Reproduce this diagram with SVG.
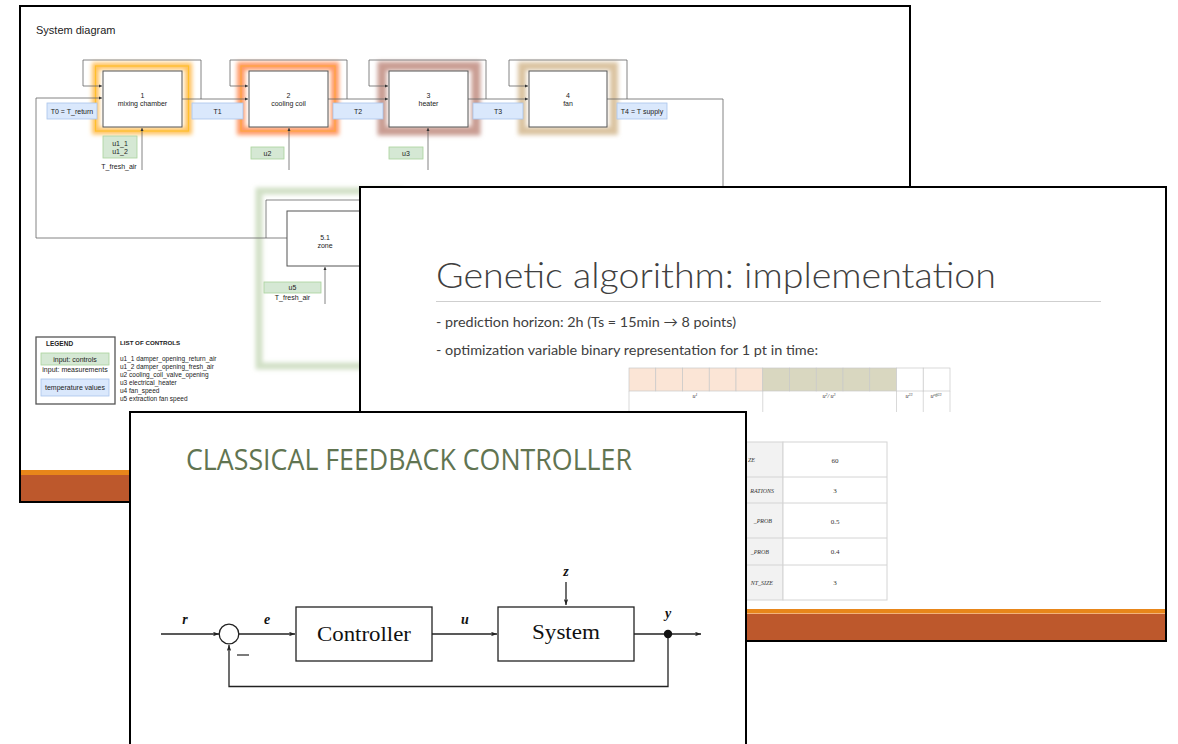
<svg xmlns="http://www.w3.org/2000/svg" width="1178" height="744" viewBox="0 0 1178 744">
  <defs>
    <style>
      .frame{fill:#fff;stroke:#000;stroke-width:2}
      .blk{fill:#fff;stroke:#555;stroke-width:1}
      .wire{fill:none;stroke:#666;stroke-width:0.8}
      .lbl{font-family:"Liberation Sans",Arial,sans-serif;font-size:7px;fill:#222;text-anchor:middle}
      .sm{font-family:"Liberation Sans",Arial,sans-serif;font-size:6.5px;fill:#222}
      .tmp{fill:#dae8fc;stroke:#a9c4eb;stroke-width:0.8}
      .ctl{fill:#d5e8d4;stroke:#a9d39b;stroke-width:0.8}
      .glow{fill:none;filter:url(#soft)}
      .orange{fill:#e8861a}
      .rust{fill:#bd582c}
      .gcell{stroke:#c8c8c8;stroke-width:0.7}
      .tser{font-family:"Liberation Serif","Times New Roman",serif;font-style:italic;font-size:6px;fill:#333;text-anchor:middle}
      .pcell{stroke:#d4d4d4;stroke-width:1}
      .pval{font-family:"Liberation Serif","Times New Roman",serif;font-size:7px;fill:#333;text-anchor:middle}
      .body{font-family:Lato,"Open Sans",sans-serif;font-size:14px;fill:#404040}
      .math{font-family:"Liberation Serif","Times New Roman",serif;font-style:italic;font-weight:bold;font-size:14px;fill:#111;text-anchor:middle}
      .cm{font-family:"Liberation Serif","Times New Roman",serif;font-size:20px;fill:#111;text-anchor:middle}
      .bd{fill:none;stroke:#222;stroke-width:1.3}
    </style>
    <filter id="soft" x="-20%" y="-20%" width="140%" height="140%">
      <feGaussianBlur stdDeviation="2"/>
    </filter>
    <marker id="ah" viewBox="0 0 6 6" refX="6" refY="3" markerWidth="4" markerHeight="4" orient="auto">
      <path d="M0,0 L6,3 L0,6 z" fill="#333"/>
    </marker>
    <marker id="ab" viewBox="0 0 8 6" refX="8" refY="3" markerWidth="6" markerHeight="4.5" orient="auto" markerUnits="userSpaceOnUse">
      <path d="M0,0 L8,3 L0,6 L2,3 z" fill="#222"/>
    </marker>
  </defs>

  <!-- ===== Slide 1: system diagram ===== -->
  <g id="slide-system">
    <rect class="frame" x="20" y="6" width="890" height="496"/>
    <rect class="orange" x="21" y="470" width="888" height="5"/>
    <rect class="rust" x="21" y="475" width="888" height="26"/>
    <text x="36" y="34" font-family="Liberation Sans,Arial,sans-serif" font-size="11" fill="#222">System diagram</text>

    <!-- halos -->
    <rect class="glow" x="95.5" y="66" width="93" height="65" stroke="#ffc261" stroke-width="7"/>
    <rect x="95.5" y="66" width="93" height="65" fill="none" stroke="#ffbf2a" stroke-width="1.2"/>
    <rect class="glow" x="241" y="66" width="94" height="65" stroke="#ff9a66" stroke-width="8"/>
    <rect x="241" y="66" width="94" height="65" fill="none" stroke="#ffa640" stroke-width="1.2"/>
    <rect class="glow" x="382" y="66" width="94" height="65" stroke="#c99d93" stroke-width="9"/>
    <rect class="glow" x="522" y="66" width="92" height="65" stroke="#dac3a0" stroke-width="8"/>
    <rect class="glow" x="259" y="191" width="140" height="175" stroke="#d1e0c6" stroke-width="7"/>

    <g id="connectors-system">
      <path class="wire" d="M36,238 V98 H102" marker-end="url(#ah)"/>
      <path class="wire" d="M182,99 H248" marker-end="url(#ah)"/>
      <path class="wire" d="M328,99 H388" marker-end="url(#ah)"/>
      <path class="wire" d="M468,99 H528" marker-end="url(#ah)"/>
      <path class="wire" d="M607,99 H723 V190"/>
      <path class="wire" d="M201,99 V60 H83 V86 H102" marker-end="url(#ah)"/>
      <path class="wire" d="M347,99 V60 H230 V86 H248" marker-end="url(#ah)"/>
      <path class="wire" d="M486,99 V60 H369 V86 H388" marker-end="url(#ah)"/>
      <path class="wire" d="M627,99 V60 H509 V86 H528" marker-end="url(#ah)"/>
      <path class="wire" d="M36,238 H287"/>
      <path class="wire" d="M266,238 V200 H362"/>
      <path class="wire" d="M142,170 V128" marker-end="url(#ah)"/>
      <path class="wire" d="M289,170 V128" marker-end="url(#ah)"/>
      <path class="wire" d="M428,170 V128" marker-end="url(#ah)"/>
      <path class="wire" d="M325,304 V267" marker-end="url(#ah)"/>
    </g>

    <g id="n1"><rect class="blk" x="103" y="71" width="79" height="56"/>
      <text class="lbl" x="142.5" y="97.5">1</text><text class="lbl" x="142.5" y="105.5">mixing chamber</text></g>
    <g id="n2"><rect class="blk" x="249" y="71" width="79" height="56"/>
      <text class="lbl" x="288.5" y="97.5">2</text><text class="lbl" x="288.5" y="105.5">cooling coil</text></g>
    <g id="n3"><rect class="blk" x="389" y="71" width="79" height="56"/>
      <text class="lbl" x="428.5" y="97.5">3</text><text class="lbl" x="428.5" y="105.5">heater</text></g>
    <g id="n4"><rect class="blk" x="529" y="71" width="78" height="56"/>
      <text class="lbl" x="568" y="97.5">4</text><text class="lbl" x="568" y="105.5">fan</text></g>
    <g id="n5"><rect class="blk" x="287" y="211" width="76" height="55"/>
      <text class="lbl" x="325" y="240">5.1</text><text class="lbl" x="325" y="248">zone</text></g>

    <g id="temps">
      <rect class="tmp" x="47" y="103" width="50" height="16"/><text class="lbl" x="72" y="113.5">T0 = T_return</text>
      <rect class="tmp" x="192" y="103" width="51" height="16"/><text class="lbl" x="217.5" y="113.5">T1</text>
      <rect class="tmp" x="333" y="103" width="50" height="16"/><text class="lbl" x="358" y="113.5">T2</text>
      <rect class="tmp" x="473" y="103" width="50" height="16"/><text class="lbl" x="498" y="113.5">T3</text>
      <rect class="tmp" x="617" y="103" width="50" height="16"/><text class="lbl" x="642" y="113.5">T4 = T supply</text>
    </g>
    <g id="controls">
      <rect class="ctl" x="103" y="136" width="34" height="22"/>
      <text class="lbl" x="120" y="145.5">u1_1</text><text class="lbl" x="120" y="153.5">u1_2</text>
      <text class="lbl" x="119" y="169">T_fresh_air</text>
      <rect class="ctl" x="251" y="147" width="33" height="12"/><text class="lbl" x="267.5" y="155.5">u2</text>
      <rect class="ctl" x="389" y="147" width="34" height="12"/><text class="lbl" x="406" y="155.5">u3</text>
      <rect class="ctl" x="264" y="282" width="57" height="11"/><text class="lbl" x="292.5" y="290">u5</text>
      <text class="lbl" x="292.5" y="300">T_fresh_air</text>
    </g>

    <g id="legend">
      <rect x="36" y="337" width="79" height="67" fill="#fff" stroke="#555" stroke-width="1.3"/>
      <text class="sm" x="46" y="345.5" font-weight="bold" font-size="6.2">LEGEND</text>
      <rect class="ctl" x="41" y="353" width="68" height="12"/>
      <text class="lbl" x="75" y="361.5" font-size="6.5">input: controls</text>
      <text class="lbl" x="75" y="371.5" font-size="6.5">input: measurements</text>
      <rect class="tmp" x="41" y="379" width="68" height="17"/>
      <text class="lbl" x="75" y="390" font-size="6.5">temperature values</text>
    </g>
    <g id="control-list" class="sm">
      <text x="120" y="344.5" font-weight="bold" font-size="6.2">LIST OF CONTROLS</text>
      <text x="120" y="360.5">u1_1 damper_opening_return_air</text>
      <text x="120" y="368.5">u1_2 damper_opening_fresh_air</text>
      <text x="120" y="376.5">u2 cooling_coil_valve_opening</text>
      <text x="120" y="384.5">u3 electrical_heater</text>
      <text x="120" y="392.5">u4 fan_speed</text>
      <text x="120" y="400.5">u5 extraction fan speed</text>
    </g>
  </g>

  <!-- ===== Slide 2: genetic algorithm ===== -->
  <g id="slide-ga">
    <rect class="frame" x="360" y="187" width="806" height="454"/>
    <rect class="orange" x="361" y="609" width="804" height="4"/>
    <rect x="361" y="613" width="804" height="1" fill="#f3b27a"/>
    <rect class="rust" x="361" y="614" width="804" height="26"/>
    <text x="436" y="288" font-family="Lato,'Open Sans',sans-serif" font-weight="300" font-size="35" fill="#404040" textLength="560" lengthAdjust="spacingAndGlyphs">Genetic algorithm: implementation</text>
    <line x1="436" y1="301.5" x2="1101" y2="301.5" stroke="#cfcfcf" stroke-width="1.2"/>
    <text class="body" x="436" y="327" textLength="300" lengthAdjust="spacingAndGlyphs">- prediction horizon: 2h (Ts = 15min → 8 points)</text>
    <text class="body" x="436" y="355" textLength="382" lengthAdjust="spacingAndGlyphs">- optimization variable binary representation for 1 pt in time:</text>

    <g id="gene-table">
      <rect class="gcell" x="629" y="368" width="26.75" height="23" fill="#fbe5d6"/>
      <rect class="gcell" x="655.75" y="368" width="26.75" height="23" fill="#fbe5d6"/>
      <rect class="gcell" x="682.5" y="368" width="26.75" height="23" fill="#fbe5d6"/>
      <rect class="gcell" x="709.25" y="368" width="26.75" height="23" fill="#fbe5d6"/>
      <rect class="gcell" x="736" y="368" width="26.75" height="23" fill="#fbe5d6"/>
      <rect class="gcell" x="762.75" y="368" width="26.75" height="23" fill="#d9d7c0"/>
      <rect class="gcell" x="789.5" y="368" width="26.75" height="23" fill="#d9d7c0"/>
      <rect class="gcell" x="816.25" y="368" width="26.75" height="23" fill="#d9d7c0"/>
      <rect class="gcell" x="843" y="368" width="26.75" height="23" fill="#d9d7c0"/>
      <rect class="gcell" x="869.75" y="368" width="26.75" height="23" fill="#d9d7c0"/>
      <rect class="gcell" x="896.5" y="368" width="26.75" height="23" fill="#fff"/>
      <rect class="gcell" x="923.25" y="368" width="26.75" height="23" fill="#fff"/>
      <path class="gcell" fill="none" d="M629,391 V412 M762.75,391 V412 M896.5,391 V412 M923.25,391 V412 M950,391 V412"/>
      <text class="tser" x="695" y="398">u<tspan font-size="4" dy="-2">1</tspan></text>
      <text class="tser" x="829" y="398">u<tspan font-size="4" dy="-2">2</tspan><tspan dy="2">/ u</tspan><tspan font-size="4" dy="-2">3</tspan></text>
      <text class="tser" x="909" y="398">u<tspan font-size="4" dy="-2">23</tspan></text>
      <text class="tser" x="936" y="398">u<tspan font-size="4" dy="-2">off23</tspan></text>
    </g>

    <g id="param-table">
      <rect class="pcell" x="690" y="442" width="93" height="158" fill="#f2f2f2"/>
      <rect class="pcell" x="783" y="442" width="104" height="158" fill="#fff"/>
      <path class="pcell" fill="none" d="M690,477 H887 M690,503 H887 M690,538 H887 M690,565 H887"/>
      <g class="tser" font-size="6.5" text-anchor="end">
        <text x="755" y="462" text-anchor="end">ZE</text>
        <text x="774" y="493" text-anchor="end">RATIONS</text>
        <text x="772" y="523" text-anchor="end">_PROB</text>
        <text x="769" y="554" text-anchor="end">_PROB</text>
        <text x="773" y="585" text-anchor="end">NT_SIZE</text>
      </g>
      <text class="pval" x="835" y="462.5">60</text>
      <text class="pval" x="835" y="493">3</text>
      <text class="pval" x="835" y="523.5">0.5</text>
      <text class="pval" x="835" y="554">0.4</text>
      <text class="pval" x="835" y="585">3</text>
    </g>
  </g>

  <!-- ===== Slide 3: classical feedback loop ===== -->
  <g id="slide-feedback">
    <rect class="frame" x="130" y="412" width="616" height="345"/>
    <text x="186" y="470" font-family="'Open Sans',Lato,sans-serif" font-size="29" fill="#617451" textLength="446" lengthAdjust="spacingAndGlyphs">CLASSICAL FEEDBACK CONTROLLER</text>

    <g id="connectors-feedback">
      <path class="bd" d="M161,634 H219" marker-end="url(#ab)"/>
      <path class="bd" d="M239,634 H295" marker-end="url(#ab)"/>
      <path class="bd" d="M432,634 H497" marker-end="url(#ab)"/>
      <path class="bd" d="M566,582 V605" marker-end="url(#ab)"/>
      <path class="bd" d="M634,634 H701" marker-end="url(#ab)"/>
      <path class="bd" d="M668,634 V686.5 H229 V645" marker-end="url(#ab)"/>
    </g>
    <g id="sum"><circle cx="229" cy="634" r="9.8" fill="#fff" stroke="#222" stroke-width="1.3"/>
      <line x1="237" y1="655" x2="249" y2="655" stroke="#222" stroke-width="1.2"/></g>
    <g id="controller"><rect class="bd" x="296" y="607" width="136" height="54" fill="#fff"/>
      <text class="cm" x="364" y="641" textLength="94" lengthAdjust="spacingAndGlyphs">Controller</text></g>
    <g id="system"><rect class="bd" x="498" y="607" width="136" height="54" fill="#fff"/>
      <text class="cm" x="566" y="639" textLength="68" lengthAdjust="spacingAndGlyphs">System</text></g>
    <circle cx="668" cy="634" r="4.2" fill="#111"/>
    <text class="math" x="185" y="624">r</text>
    <text class="math" x="267" y="624">e</text>
    <text class="math" x="465" y="624">u</text>
    <text class="math" x="566" y="576">z</text>
    <text class="math" x="668" y="618">y</text>
  </g>
</svg>
